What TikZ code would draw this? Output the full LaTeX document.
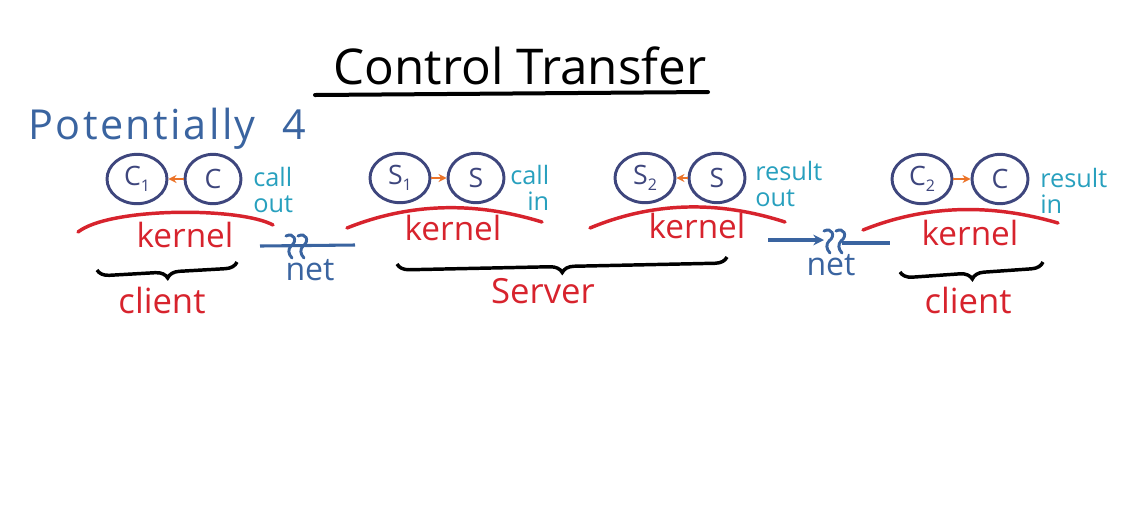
\documentclass[tikz,border=0pt]{standalone}
\usepackage{fontspec}
\setmainfont{Open Sans}
\usetikzlibrary{arrows.meta,decorations.pathreplacing,shapes.geometric}
\definecolor{navy}{RGB}{62,70,125}
\definecolor{inkblue}{RGB}{58,100,160}
\definecolor{teal2}{RGB}{40,160,190}
\definecolor{inkred}{RGB}{215,35,45}
\definecolor{inkorange}{RGB}{235,115,40}
\newcommand\lowsub[1]{\raisebox{-0.4ex}{\fontsize{12}{12}\selectfont #1}}
\begin{document}
\begin{tikzpicture}[x=0.75pt,y=-0.75pt,
  proc/.style={ellipse,draw=navy,line width=2.2pt,minimum width=45pt,minimum height=37pt,inner sep=0pt,text=navy,font=\fontsize{20}{22}\selectfont},
  procr/.style={proc,minimum width=42pt},
  oarr/.style={draw=inkorange,line width=1.8pt,-{Stealth[length=6pt,width=6pt]}},
  kern/.style={draw=inkred,line width=2.6pt,line cap=round},
  kerntxt/.style={text=inkred,font=\fontsize{25}{25}\selectfont,anchor=base,inner sep=0pt},
  roletxt/.style={text=inkred,font=\fontsize{26}{26}\selectfont,anchor=base,inner sep=0pt},
  note/.style={text=teal2,font=\fontsize{19}{19.5}\selectfont,inner sep=0pt},
  nettxt/.style={text=inkblue,font=\fontsize{24}{24}\selectfont,anchor=base,inner sep=0pt},
  netline/.style={draw=inkblue,line width=2.3pt},
  brc/.style={draw=black,line width=2.6pt,decorate,decoration={brace,amplitude=9pt}},
  squig/.style={draw=inkblue,line width=2.2pt,line cap=round}
]
\useasboundingbox (0,0) rectangle (1131,512);

% title
\node[anchor=base,inner sep=0pt,font=\fontsize{37}{37}\selectfont] (title) at (520,84) {Control Transfer};
\coordinate (ul1) at (315,95);
\coordinate (ul2) at (708,92);
\draw[line width=3pt,line cap=round] (ul1) -- (ul2);

\node[anchor=base west,inner sep=0pt,text=inkblue,font=\fontsize{31}{31}\selectfont\addfontfeature{LetterSpace=6}] (pot) at (28,139) {Potentially\ \ 4};

% processes
\node[proc] (c1) at (137,179) {C\lowsub{1}};
\node[procr] (c1r) at (213,179) {C};
\node[proc] (s1) at (400,178) {S\lowsub{1}};
\node[procr] (s1r) at (476,178) {S};
\node[proc] (s2) at (645,178) {S\lowsub{2}};
\node[procr] (s2r) at (717,178) {S};
\node[proc] (c2) at (922,179) {C\lowsub{2}};
\node[procr] (c2r) at (1000,179) {C};

\draw[oarr] (c1r) -- (c1);
\draw[oarr] (s1) -- (s1r);
\draw[oarr] (s2r) -- (s2);
\draw[oarr] (c2) -- (c2r);

% notes
\node[note,anchor=west,align=left] (n1) at (253,190) {call\\out};
\node[note,anchor=west,align=right] (n2) at (510,188) {call\\in};
\node[note,anchor=west,align=left] (n3) at (755,184) {result\\out};
\node[note,anchor=west,align=left] (n4) at (1040,191) {result\\in};

% kernels
\coordinate (k1l) at (78,232);  \coordinate (k1r) at (273,225);
\coordinate (k2l) at (347,228); \coordinate (k2r) at (542,222);
\coordinate (k3l) at (590,228); \coordinate (k3r) at (785,222);
\coordinate (k4l) at (863,230); \coordinate (k4r) at (1058,223);
\draw[kern] (k1l) .. controls (110,207) and (240,207) .. (k1r);
\draw[kern] (k2l) .. controls (412,202) and (477,202) .. (k2r);
\draw[kern] (k3l) .. controls (655,201) and (720,201) .. (k3r);
\draw[kern] (k4l) .. controls (928,204) and (993,204) .. (k4r);
\node[kerntxt] (kt1) at (185,247) {kernel};
\node[kerntxt] (kt2) at (453,240) {kernel};
\node[kerntxt] (kt3) at (697,238) {kernel};
\node[kerntxt] (kt4) at (970,245) {kernel};

% braces
\coordinate (b1l) at (97,270);  \coordinate (b1r) at (237,262);
\coordinate (b2l) at (397,264); \coordinate (b2r) at (727,257);
\coordinate (b3l) at (900,272); \coordinate (b3r) at (1043,262);
\draw[brc] (b1r) -- (b1l);
\draw[brc] (b2r) -- (b2l);
\draw[brc] (b3r) -- (b3l);
\node[roletxt] (cl1) at (162,313) {client};
\node[roletxt] (srv) at (543,303) {Server};
\node[roletxt] (cl2) at (968,313) {client};

% networks
\coordinate (n1a) at (260,246); \coordinate (n1b) at (355,245);
\draw[netline] (n1a) -- (n1b);
\foreach \x in {291,303}{
  \draw[squig] (\x-5,236) .. controls (\x+3,232) and (\x+7,241) .. (\x,246) .. controls (\x-3,249) and (\x-3,254) .. (\x+1,258);
}
\node[nettxt] (net1) at (310,280) {net};

\coordinate (n2a) at (768,240); \coordinate (n2m) at (824,240);
\coordinate (n2c) at (842,243); \coordinate (n2b) at (890,243);
\draw[netline,-{Stealth[length=8pt,width=8pt]}] (n2a) -- (n2m);
\draw[netline] (n2c) -- (n2b);
\foreach \x in {829,841}{
  \draw[squig] (\x-5,231) .. controls (\x+3,227) and (\x+7,236) .. (\x,241) .. controls (\x-3,244) and (\x-3,249) .. (\x+1,253);
}
\node[nettxt] (net2) at (831,275) {net};
\end{tikzpicture}
\end{document}
